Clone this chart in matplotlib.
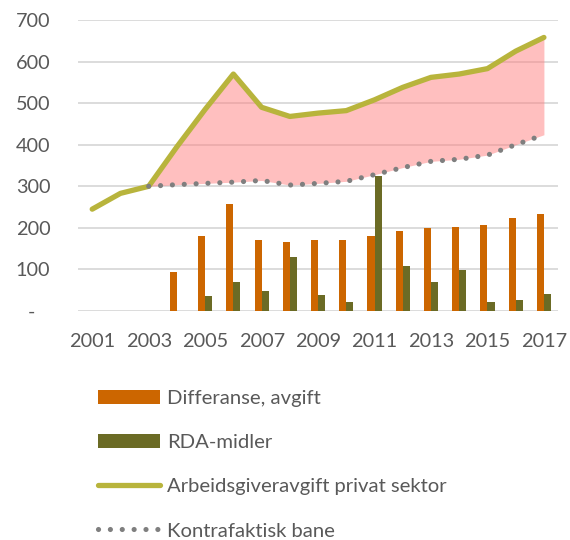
import numpy as np
import matplotlib
matplotlib.use("Agg")
import matplotlib.pyplot as plt

plt.rcParams['font.family'] = ['Lato', 'DejaVu Sans']

years = list(range(2001, 2018))
# Arbeidsgiveravgift privat sektor
avgift = [245, 283, 300, 395, 485, 570, 490, 468, 476, 482, 508, 538, 562, 570, 583, 625, 658]
# Kontrafaktisk bane (from 2003)
kontra_years = list(range(2003, 2018))
kontra = [300, 304, 307, 310, 314, 303, 307, 312, 328, 345, 360, 365, 375, 400, 424]
# bars (from 2004)
bar_years = list(range(2004, 2018))
differanse = [93, 180, 258, 172, 166, 170, 172, 181, 192, 200, 202, 207, 223, 233]
rda_years = list(range(2005, 2018))
rda = [35, 70, 49, 130, 38, 21, 325, 108, 70, 98, 21, 27, 40]

c_orange = '#cc6600'
c_green = '#6b6b25'
c_line = '#b8b43c'
c_dot = '#7f7f7f'
c_text = '#595959'

fig = plt.figure(figsize=(5.7, 5.4), dpi=100)
ax = fig.add_axes([0.137, 0.424, 0.842, 0.539])

w = 0.25
b1 = ax.bar(np.array(bar_years) - w / 2, differanse, width=w, color=c_orange, label='Differanse, avgift', zorder=3)
b2 = ax.bar(np.array(rda_years) + w / 2, rda, width=w, color=c_green, label='RDA-midler', zorder=3)

# shaded gap between actual and counterfactual
ax.fill_between(kontra_years, kontra, avgift[2:], color='#ff8080', alpha=0.5, lw=0, zorder=2)

l1, = ax.plot(years, avgift, color=c_line, lw=3.8, solid_capstyle='round', solid_joinstyle='round',
              label='Arbeidsgiveravgift privat sektor', zorder=4)
l2, = ax.plot(kontra_years, kontra, color=c_dot, lw=3.7, linestyle=(0, (0.01, 2.3)),
              dash_capstyle='round', label='Kontrafaktisk bane', zorder=4)

ax.set_xlim(2000.5, 2017.5)
ax.set_ylim(0, 700)
ax.set_yticks(range(0, 701, 100))
ax.set_yticklabels(['-   '] + [str(v) for v in range(100, 701, 100)])
ax.set_xticks(range(2001, 2018, 2))
ax.tick_params(axis='both', length=0, labelsize=14.3, colors=c_text)
ax.tick_params(axis='y', pad=20)
ax.tick_params(axis='x', pad=16)

for s in ax.spines.values():
    s.set_visible(False)
ax.grid(axis='y', color='#d9d9d9', lw=1.3, zorder=1)
ax.set_axisbelow(True)

fig.legend(handles=[b1, b2, l1, l2], loc='upper left', bbox_to_anchor=(0.172, 0.278), frameon=False,
           fontsize=14.6, labelcolor=c_text, handlelength=3.05, handletextpad=0.35,
           labelspacing=1.33, borderpad=0, borderaxespad=0)

fig.savefig('out.png', dpi=100)
